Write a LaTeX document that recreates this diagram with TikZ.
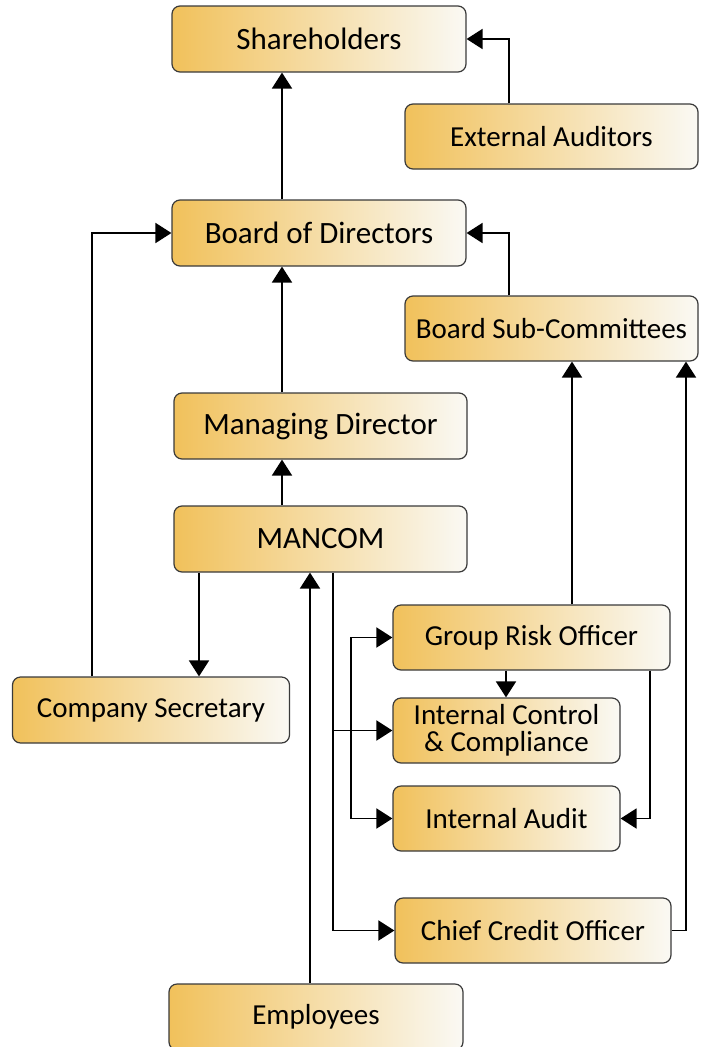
\documentclass[tikz,border=0pt]{standalone}
\usepackage{fontspec}
\setmainfont{Carlito}
\usetikzlibrary{arrows.meta,calc}
\definecolor{orgL}{HTML}{F1C15B}
\definecolor{orgR}{HTML}{FAF9F4}
\definecolor{edge}{HTML}{3A3A3A}
\tikzset{
  box/.style={rounded corners=8pt, draw=edge, line width=1.2pt,
    left color=orgL, right color=orgR, inner sep=0pt, align=center,
    text=black},
  big/.style={font=\fontsize{31}{33}\selectfont},
  small/.style={font=\fontsize{29}{27}\selectfont},
  arr/.style={line width=1.9pt, -{Triangle[length=16pt,width=20pt]}},
  arrboth/.style={line width=1.9pt, {Triangle[length=16pt,width=20pt]}-{Triangle[length=16pt,width=20pt]}}
}
\begin{document}
\begin{tikzpicture}[x=1pt,y=1pt]
\useasboundingbox (0,0) rectangle (705,-1047);
% nodes
\node[box,big,minimum width=294pt,minimum height=66pt] (sh) at (319,-39) {Shareholders};
\node[box,small,minimum width=293pt,minimum height=65pt] (ea) at (551.5,-136.5) {External Auditors};
\node[box,big,minimum width=294pt,minimum height=66pt] (bod) at (319,-233) {Board of Directors};
\node[box,small,minimum width=293pt,minimum height=65pt] (bsc) at (551.5,-328.5) {Board Sub-Committees};
\node[box,big,minimum width=293pt,minimum height=66pt] (md) at (320.5,-426) {Managing Director};
\node[box,big,minimum width=293pt,minimum height=66pt] (man) at (320.5,-539) {MANCOM};
\node[box,small,minimum width=277pt,minimum height=65pt] (gro) at (531.5,-637.5) {Group Risk Officer};
\node[box,small,minimum width=227pt,minimum height=65pt] (icc) at (506.5,-730.5) {Internal Control\\\& Compliance};
\node[box,small,minimum width=227pt,minimum height=65pt] (ia) at (506.5,-818.5) {Internal Audit};
\node[box,small,minimum width=277pt,minimum height=66pt] (cs) at (151,-710) {Company Secretary};
\node[box,small,minimum width=276pt,minimum height=65pt] (cco) at (533,-930.5) {Chief Credit Officer};
\node[box,small,minimum width=294pt,minimum height=66pt] (emp) at (316,-1017) {Employees};
% helper coordinates
\coordinate (mo) at ([xshift=12.5pt]man.south);
\coordinate (bx) at ([xshift=-41pt]gro.west);
% connectors
\draw[arr] ([xshift=-37pt]bod.north) -- ([xshift=-37pt]sh.south);
\draw[arr] ([xshift=-42.5pt]ea.north) |- (sh.east);
\draw[arr] ([xshift=-59pt]cs.north) |- (bod.west);
\draw[arr] ([xshift=-42.5pt]bsc.north) |- (bod.east);
\draw[arr] ([xshift=-38.5pt]md.north) -- ([xshift=-37pt]bod.south);
\draw[arr] ([xshift=-38.5pt]man.north) -- ([xshift=-38.5pt]md.south);
\draw[arr] ([xshift=-121.5pt]man.south) -- ([xshift=48pt]cs.north);
\draw[arr] ([xshift=-6pt]emp.north) -- ([xshift=-10.5pt]man.south);
\draw[arr] (mo) |- (cco.west);
\draw[arr] (mo |- icc.west) -- (icc.west);
\draw[arrboth] (gro.west) -| (bx |- ia.west) -- (ia.west);
\draw[arr] ([xshift=40.5pt]gro.north) -- ([xshift=20.5pt]bsc.south);
\draw[arr] ([xshift=-25.5pt]gro.south) -- ([xshift=-0.5pt]icc.north);
\draw[arr] ([xshift=118.5pt]gro.south) |- (ia.east);
\draw[arr] (cco.east) -| ([xshift=134.5pt]bsc.south);
\end{tikzpicture}
\end{document}
